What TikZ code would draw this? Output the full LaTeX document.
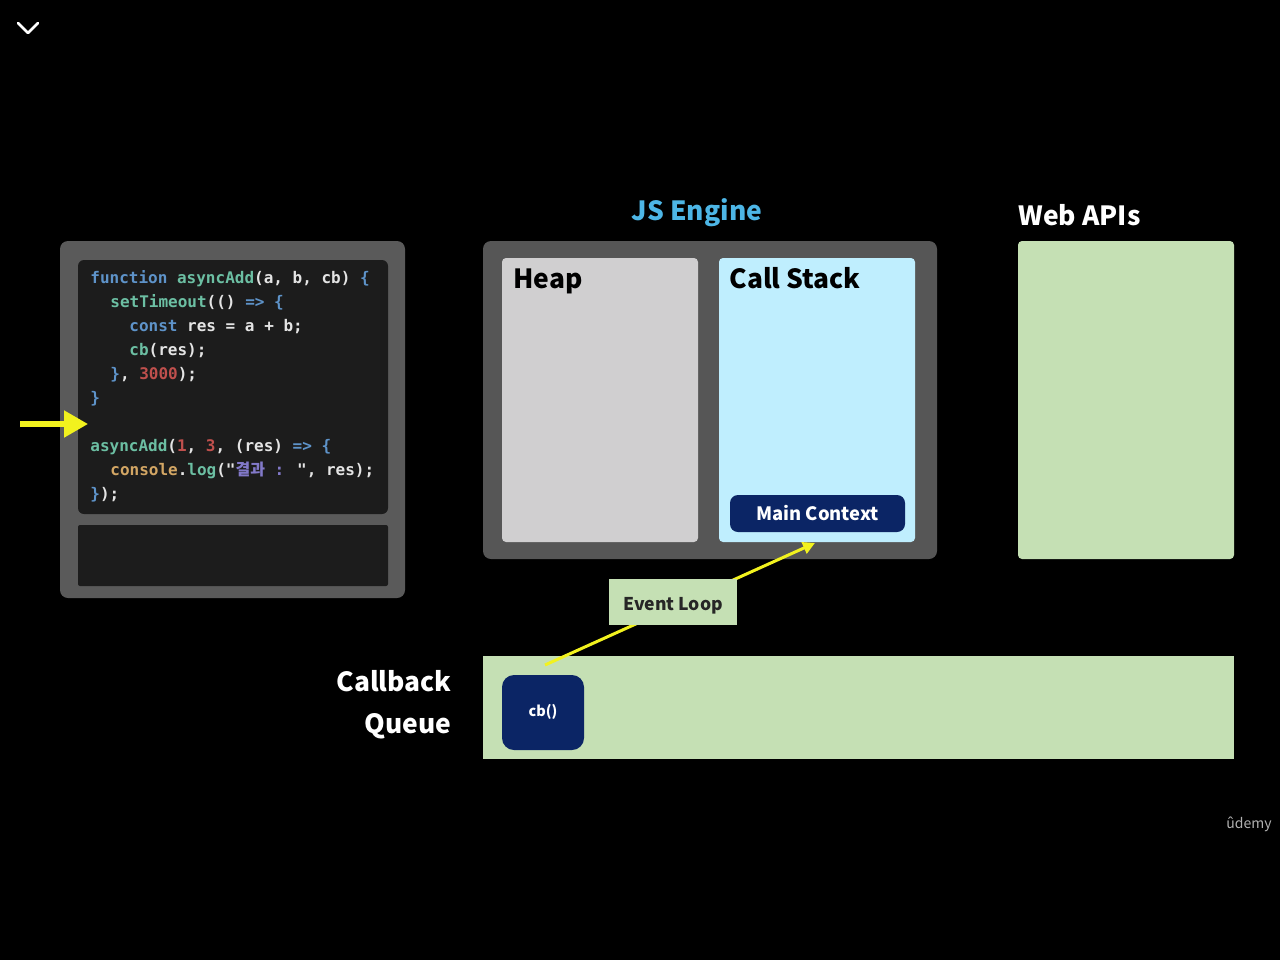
\documentclass[tikz,border=0pt]{standalone}
\usepackage{fontspec}
\setmainfont{Noto Sans CJK KR}
\newfontfamily\codefont{DejaVu Sans Mono}
\newfontfamily\cjk{Noto Sans CJK KR}
\usetikzlibrary{arrows.meta}
\definecolor{outergray}{HTML}{5A5A5A}
\definecolor{codebg}{HTML}{1C1C1C}
\definecolor{enginegray}{HTML}{565656}
\definecolor{heapgray}{HTML}{D0CFD0}
\definecolor{stackblue}{HTML}{BFEEFE}
\definecolor{navy}{HTML}{0B2565}
\definecolor{lgreen}{HTML}{C5E0B4}
\definecolor{jsblue}{HTML}{4DB6E6}
\definecolor{yl}{HTML}{F2F21E}
\definecolor{cw}{HTML}{E4E4E4}
\definecolor{ckw}{HTML}{5E93C9}
\definecolor{cfn}{HTML}{6CBFA3}
\definecolor{cred}{HTML}{C0504D}
\definecolor{corange}{HTML}{D3A664}
\definecolor{cpurple}{HTML}{8279C9}
\newcommand\kw[1]{\textcolor{ckw}{#1}}
\newcommand\fn[1]{\textcolor{cfn}{#1}}
\newcommand\nm[1]{\textcolor{cred}{#1}}
\begin{document}
\begin{tikzpicture}[x=0.5pt,y=-0.5pt,
  panel/.style={inner sep=0pt, outer sep=0pt, draw=none},
  code/.style={inner sep=0pt, anchor=base west, text=cw, font=\codefont\bfseries\fontsize{8}{10}\selectfont},
  title/.style={inner sep=0pt, font=\bfseries\fontsize{13.2}{15}\selectfont},
  conn/.style={draw=yl, line width=1.5pt},
]
\fill[black] (0,0) rectangle (1280,960);
\useasboundingbox (0,0) rectangle (1280,960);

% chevron
\coordinate (cv1) at (18,23);
\coordinate (cv2) at (28,33);
\coordinate (cv3) at (38,23);
\draw[white, line width=1.4pt, line cap=round, line join=round] (cv1) -- (cv2) -- (cv3);

% code panel
\node[panel, fill=outergray, rounded corners=4pt, minimum width=172.5pt, minimum height=178.5pt] (outer) at (232.5,419.5) {};
\node[panel, fill=codebg, rounded corners=3pt, minimum width=155pt, minimum height=127pt] (codebox) at (233,387) {};
\node[panel, fill=codebg, rounded corners=1pt, minimum width=155pt, minimum height=30.5pt] (console) at (233,555.5) {};

\node[code] (l1) at (90,283) {\kw{function} \fn{asyncAdd}(a, b, cb) \kw{\{}};
\node[code] (l2) at (110,307) {\fn{setTimeout}(() \kw{=>} \kw{\{}};
\node[code] (l3) at (129,331) {\kw{const} res = a + b;};
\node[code] (l4) at (129,355) {\fn{cb}(res);};
\node[code] (l5) at (110,379) {\kw{\}}, \nm{3000});};
\node[code] (l6) at (90,403) {\kw{\}}};
\node[code] (l7) at (90,451) {\fn{asyncAdd}(\nm{1}, \nm{3}, (res) \kw{=>} \kw{\{}};
\node[code] (l8) at (110,475) {\textcolor{corange}{console}.\fn{log}("\textcolor{cpurple}{{\cjk\bfseries 결과} :} ", res);};
\node[code] (l9) at (90,499) {\kw{\}});};

% current-line arrow
\coordinate (pa) at (20,424);
\coordinate (pb) at (88,424);
\draw[yl, line width=2.6pt, -{Triangle[length=12pt,width=13pt]}] (pa) -- (pb);

% JS engine
\node[title, text=jsblue] (jstitle) at (697,213) {JS Engine};
\node[panel, fill=enginegray, rounded corners=4pt, minimum width=227pt, minimum height=159pt] (engine) at (710,400) {};
\node[panel, fill=heapgray, rounded corners=2pt, minimum width=98pt, minimum height=142pt] (heap) at (600,400) {};
\node[panel, fill=stackblue, rounded corners=2pt, minimum width=98pt, minimum height=142pt] (stack) at (817,400) {};
\node[title, anchor=base west, text=black] (heaplbl) at (513,288) {Heap};
\node[title, anchor=base west, text=black] (stacklbl) at (729,288) {Call Stack};
\node[panel, fill=navy, rounded corners=4pt, minimum width=87.5pt, minimum height=18.5pt] (main) at (817.5,513.5) {};
\node[inner sep=0pt, anchor=base, text=white, font=\bfseries\fontsize{9.2}{11}\selectfont] (mainlbl) at (817.5,520) {Main Context};

% Web APIs
\node[title, anchor=base west, text=white] (webtitle) at (1018,225) {Web APIs};
\node[panel, fill=lgreen, rounded corners=2pt, minimum width=108pt, minimum height=159pt] (web) at (1126,400) {};

% Callback queue
\node[title, anchor=base east, text=white] (cbq1) at (452,691) {Callback};
\node[title, anchor=base east, text=white] (cbq2) at (452,733) {Queue};
\node[panel, fill=lgreen, minimum width=375.5pt, minimum height=51.5pt] (queue) at (858.5,707.5) {};
\node[panel, fill=navy, rounded corners=6pt, minimum width=41pt, minimum height=37.5pt] (cb) at (543,712.5) {};
\node[inner sep=0pt, anchor=base, text=white, font=\bfseries\fontsize{7.2}{9}\selectfont] (cblbl) at (543,716) {cb()};

% event loop connector (behind the Event Loop box)
\coordinate (ls) at (545,665);
\coordinate (le) at (815,543);
\draw[conn, -{Triangle[length=6pt,width=6pt]}] (ls) -- (le);
\node[panel, fill=lgreen, minimum width=64pt, minimum height=23pt] (loop) at (673,602) {};
\node[inner sep=0pt, anchor=base, text=black!85, font=\bfseries\fontsize{8.8}{11}\selectfont] (looplbl) at (673,610) {Event Loop};

% watermark
\node[inner sep=0pt, text=gray!60, font=\fontsize{7}{8}\selectfont] (wm) at (1249,824) {ûdemy};
\end{tikzpicture}
\end{document}
